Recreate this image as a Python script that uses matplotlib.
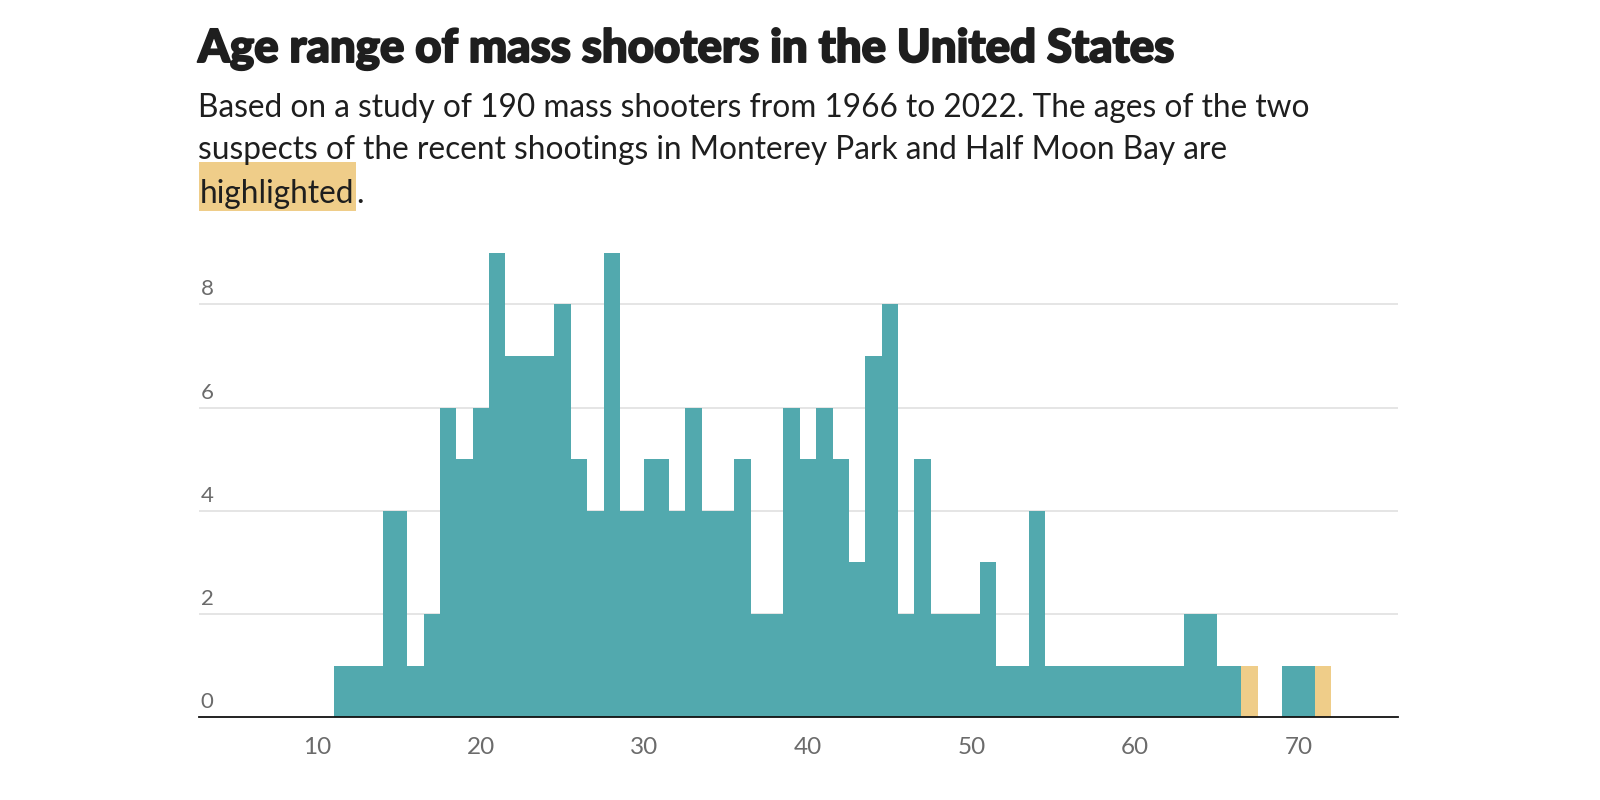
import numpy as np
import matplotlib
matplotlib.use('Agg')
import matplotlib.pyplot as plt
import matplotlib.patheffects as pe
from matplotlib.patches import Rectangle

# Data (ages present in the study, counts per age)
ages = [11, 13, 15, 16, 17, 18, 19, 20, 21, 22, 23, 24, 25, 26, 27, 28, 29, 31, 32, 33,
        34, 35, 36, 37, 38, 39, 40, 41, 42, 43, 44, 45, 46, 47, 48, 49, 50, 51, 52, 53,
        54, 55, 56, 57, 58, 59, 60, 61, 62, 64, 66, 67, 68, 70, 72]
counts = [1, 1, 4, 1, 2, 6, 5, 6, 9, 7, 7, 7, 8, 5, 4, 9, 4, 5, 4, 6,
          4, 4, 5, 2, 2, 6, 5, 6, 5, 3, 7, 8, 2, 5, 2, 2, 2, 3, 1, 1,
          4, 1, 1, 1, 1, 1, 1, 1, 1, 2, 1, 0, 0, 1, 0]
# recent suspects (Half Moon Bay, Monterey Park)
highlight = {67: 1, 72: 1}

x_ticks = [10, 20, 30, 40, 50, 60, 70]
y_ticks = [0, 2, 4, 6, 8]

TITLE = 'Age range of mass shooters in the United States'
SUB1 = 'Based on a study of 190 mass shooters from 1966 to 2022. The ages of the two'
SUB2 = 'suspects of the recent shootings in Monterey Park and Half Moon Bay are'
SUB3 = 'highlighted'

TEAL = '#52a9ae'
GOLD = '#efcd89'
GRID = '#dedede'
TICK = '#6b6b6b'
TXT = '#1e1e1e'
FONT = 'Lato'
SUBSIZE = 22.8

W, H = 1600, 800
fig = plt.figure(figsize=(W/100, H/100), dpi=100, facecolor='w')

ages = np.array(ages)
counts = np.array(counts, dtype=float)
hl = np.array([highlight.get(a, 0) for a in ages], dtype=float)

# axes placed in pixel terms
left, right, y0, ytop = 199, 1398, 717.3, 252.9
ax = fig.add_axes([left/W, 1-y0/H, (right-left)/W, (y0-ytop)/H])
ax.set_xlim(2.77, 76.07)
ax.set_ylim(0, 9)

for v in y_ticks[1:]:
    ax.axhline(v, color=GRID, lw=1.1, zorder=1)

ax.fill_between(ages, 0, counts, step='mid', color=TEAL, lw=0, zorder=2)
ax.fill_between(ages, counts, counts+hl, step='mid', color=GOLD, lw=0, zorder=2)

for s in ['top', 'left', 'right']:
    ax.spines[s].set_visible(False)
ax.spines['bottom'].set_color('#111111')
ax.spines['bottom'].set_linewidth(1.3)
ax.spines['bottom'].set_zorder(3)

ax.set_xticks(x_ticks)
ax.tick_params(axis='x', length=0, pad=14, labelsize=17.5, labelcolor=TICK)
for lab in ax.get_xticklabels():
    lab.set_fontfamily(FONT)
ax.set_yticks([])
for v in y_ticks:
    ax.annotate(str(v), xy=(0, v), xycoords=ax.get_yaxis_transform(), xytext=(1.2, 6.5),
                textcoords='offset points', ha='left', va='baseline',
                fontsize=16, color=TICK, family=FONT)

# title and subtitle
fig.text(198/W, 1-62/H, TITLE, fontsize=32.8, fontweight='black', family=FONT, color=TXT,
         va='baseline', path_effects=[pe.withStroke(linewidth=1.4, foreground=TXT)])
fig.text(198/W, 1-117/H, SUB1, fontsize=SUBSIZE, family=FONT, color=TXT, va='baseline')
fig.text(198/W, 1-159/H, SUB2, fontsize=SUBSIZE, family=FONT, color=TXT, va='baseline')
t3 = fig.text(200/W, 1-203/H, SUB3, fontsize=SUBSIZE, family=FONT, color=TXT, va='baseline', zorder=3)
ax.annotate('.', xy=(1, 0), xycoords=t3, xytext=(1.2, 0), textcoords='offset points',
            ha='left', va='bottom', fontsize=SUBSIZE, family=FONT, color=TXT, annotation_clip=False)

# highlight background behind the word, like an inline span
fig.canvas.draw()
bb = t3.get_window_extent()
fig.patches.append(Rectangle((bb.x0-1.5, bb.y0-2), bb.width+3, bb.height+19, transform=None,
                             fc=GOLD, ec='none', zorder=1, figure=fig))

fig.savefig('out.png', dpi=100, facecolor='w')
